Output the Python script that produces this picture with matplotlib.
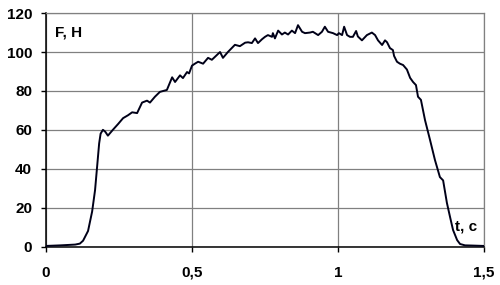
import matplotlib
matplotlib.use("Agg")
import matplotlib.pyplot as plt

# force vs time
t = [0, 0.05, 0.1, 0.116, 0.127, 0.144, 0.158, 0.168, 0.175, 0.182, 0.187, 0.195,
     0.203, 0.212, 0.229, 0.247, 0.264, 0.281, 0.295, 0.312, 0.329, 0.346, 0.356,
     0.373, 0.390, 0.414, 0.432, 0.442, 0.459, 0.469, 0.483, 0.49, 0.5, 0.510,
     0.521, 0.538, 0.555, 0.568, 0.582, 0.596, 0.606, 0.623, 0.647, 0.664, 0.682,
     0.692, 0.705, 0.716, 0.726, 0.740, 0.750, 0.760, 0.774, 0.777, 0.784, 0.795,
     0.808, 0.818, 0.829, 0.842, 0.853, 0.863, 0.877, 0.887, 0.904, 0.914, 0.932,
     0.945, 0.955, 0.966, 0.983, 0.997, 1.003, 1.014, 1.021, 1.031, 1.041, 1.051,
     1.062, 1.068, 1.082, 1.099, 1.116, 1.127, 1.137, 1.151, 1.161, 1.168, 1.178,
     1.188, 1.192, 1.202, 1.212, 1.223, 1.236, 1.247, 1.257, 1.267, 1.274, 1.284,
     1.298, 1.315, 1.332, 1.349, 1.360, 1.373, 1.384, 1.394, 1.408, 1.418, 1.435,
     1.46, 1.5]
F = [0.3, 0.6, 1.0, 1.5, 3, 8, 18, 29, 41, 53, 58, 60, 59, 57, 60, 63, 66, 67.5,
     69, 68.6, 74, 75, 74, 77, 79.5, 80.5, 87, 84.6, 88, 86.6, 89.7, 89, 93, 94,
     95, 94, 97, 96, 98, 100, 97, 100, 103.7, 103, 104.8, 105, 104.6, 107, 104.6,
     106.6, 107.8, 108.7, 107.8, 109.7, 107, 111, 109, 110, 109, 111, 109.7, 113.8,
     110.4, 109.7, 110, 110.4, 108.7, 110.4, 113, 110.4, 109.7, 108.7, 109.7, 108.7,
     113, 108.7, 107.8, 107.8, 110.8, 108, 106, 108.7, 110, 108.7, 106, 103.6, 106,
     105, 102, 101, 98, 95, 94, 93.3, 91, 86.7, 84.6, 83, 77, 75.4, 65, 54.9, 44.5,
     35.7, 34, 22.4, 15, 8.5, 3.3, 1.3, 0.6, 0.5, 0.3]

x_ticks = [0, 0.5, 1, 1.5]
x_labels = ["0", "0,5", "1", "1,5"]
y_ticks = [0, 20, 40, 60, 80, 100, 120]

plt.rcParams["font.family"] = ["Liberation Sans", "DejaVu Sans"]
plt.rcParams["font.weight"] = "bold"

fig = plt.figure(figsize=(5, 2.85), dpi=100)
fig.patch.set_facecolor("white")
ax = fig.add_axes([0.092, 0.135, 0.876, 0.819])

ax.plot(t, F, color="#000018", lw=1.4, zorder=3)

ax.set_xlim(0, 1.5)
ax.set_ylim(0, 120)
ax.set_xticks(x_ticks)
ax.set_xticklabels(x_labels)
ax.set_yticks(y_ticks)
ax.grid(True, color="#808080", lw=0.9)
ax.set_axisbelow(True)

for side in ("top", "right"):
    ax.spines[side].set_color("#808080")
    ax.spines[side].set_linewidth(0.9)
for side in ("left", "bottom"):
    ax.spines[side].set_color("black")
    ax.spines[side].set_linewidth(1.1)

ax.tick_params(axis="both", direction="out", length=3.5, width=1,
               labelsize=11, colors="black")
ax.tick_params(axis="x", pad=10.5)
ax.tick_params(axis="y", pad=6.5)
for lab in ax.get_xticklabels() + ax.get_yticklabels():
    lab.set_fontweight("bold")

ax.text(0.031, 110, "F, H", fontsize=11, fontweight="bold", ha="left", va="center")
ax.text(1.402, 10.5, "t, c", fontsize=11, fontweight="bold", ha="left", va="center")

fig.savefig("out.png", dpi=100)
